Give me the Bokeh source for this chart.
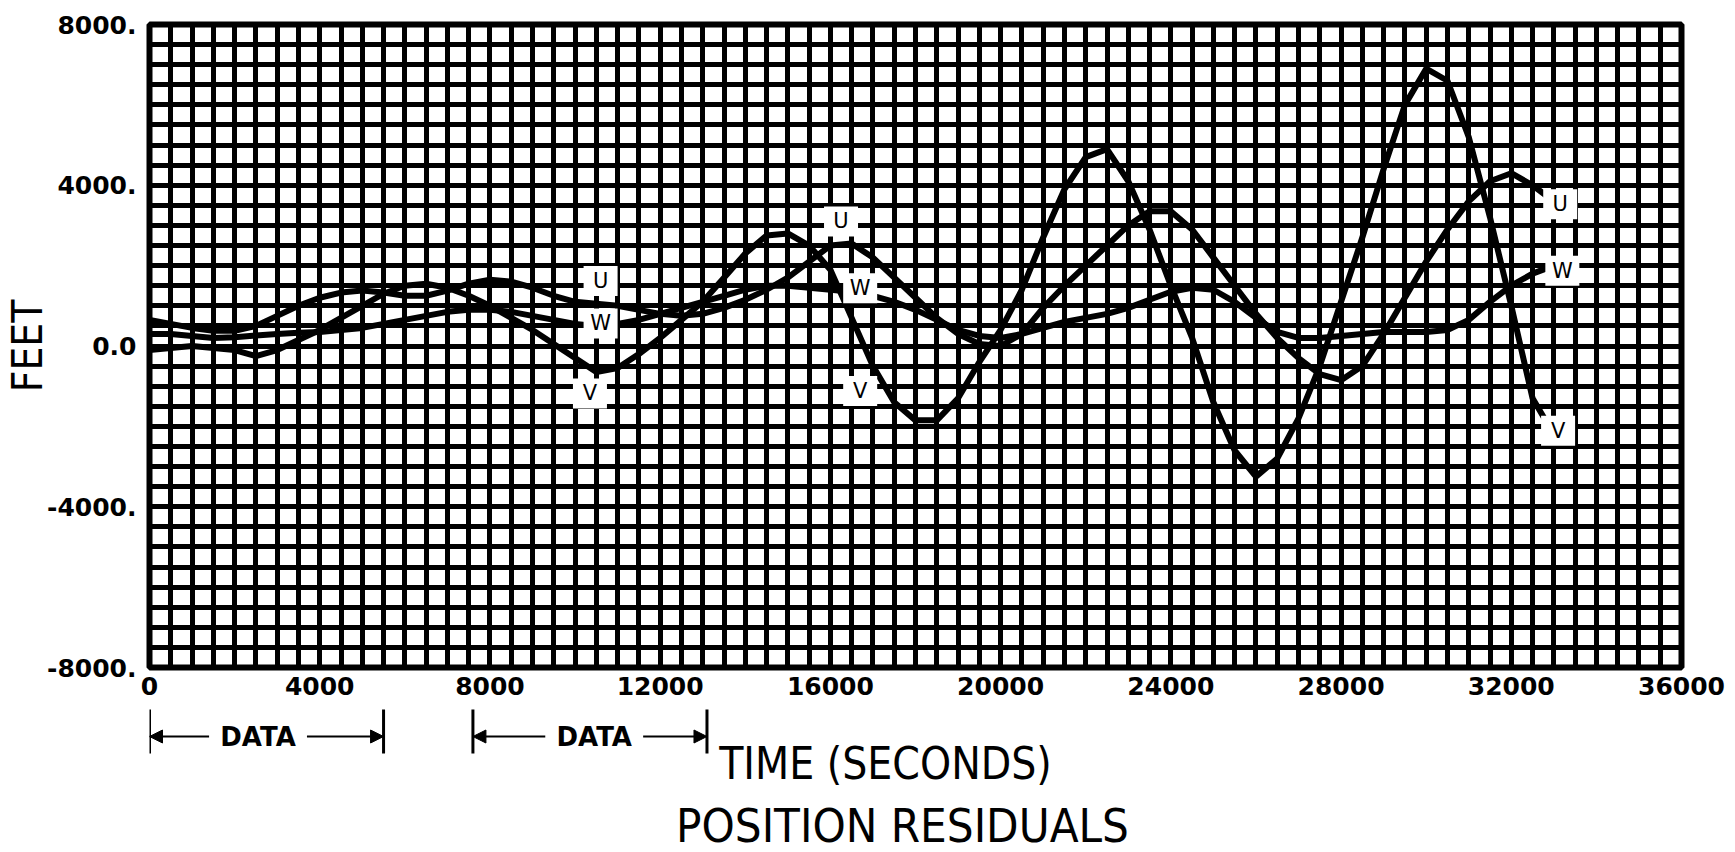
from bokeh.plotting import figure
from bokeh.layouts import column
from bokeh.models import (FixedTicker, SingleIntervalTicker, Arrow, NormalHead,
                          ColumnDataSource, Range1d)
from bokeh.core.properties import value
from bokeh.embed import file_html
from bokeh.resources import INLINE

# ---------------- data ----------------
time_s = [0, 500, 1000, 1500, 2000, 2500, 3000, 3500, 4000, 4500, 5000, 5500, 6000, 6500,
          7000, 7500, 8000, 8500, 9000, 9500, 10000, 10500, 11000, 11500, 12000, 12500,
          13000, 13500, 14000, 14500, 15000, 15500, 16000, 16500, 17000, 17500, 18000,
          18500, 19000, 19500, 20000, 20500, 21000, 21500, 22000, 22500, 23000, 23500,
          24000, 24500, 25000, 25500, 26000, 26500, 27000, 27500, 28000, 28500, 29000,
          29500, 30000, 30500, 31000, 31500, 32000, 32500, 33000]

u_ft = [650, 550, 450, 380, 380, 500, 750, 1000, 1200, 1330, 1380, 1330, 1250, 1250,
        1380, 1550, 1650, 1600, 1450, 1250, 1100, 1050, 1000, 900, 800, 750,
        800, 950, 1150, 1400, 1700, 2100, 2500, 2550, 2200, 1700, 1200,
        700, 300, 50, 0, 300, 950, 1500, 2000, 2500, 3000, 3350,
        3350, 2900, 2200, 1500, 800, 200, -300, -700, -850, -500, 300,
        1200, 2100, 2900, 3600, 4100, 4300, 4000, 3600]

v_ft = [-100, -50, 0, -50, -100, -250, -100, 150, 400, 700, 1000, 1300, 1500, 1550,
        1450, 1250, 1000, 700, 400, 50, -300, -650, -550, -200, 200, 650,
        1100, 1700, 2300, 2750, 2800, 2500, 1900, 700, -500, -1400, -1850,
        -1850, -1300, -400, 400, 1400, 2700, 3900, 4700, 4900, 4100, 2900,
        1500, 200, -1400, -2600, -3250, -2800, -1800, -500, 1100, 2700, 4400,
        6000, 6900, 6600, 5200, 3200, 1000, -1300, -2200]

w_ft = [300, 300, 250, 200, 220, 260, 300, 330, 350, 400, 450, 550, 650, 750,
        850, 900, 900, 850, 750, 650, 550, 500, 550, 650, 800, 950,
        1100, 1250, 1400, 1500, 1500, 1450, 1400, 1350, 1250, 1100, 900,
        650, 400, 250, 200, 300, 450, 600, 700, 800, 950, 1150,
        1350, 1450, 1400, 1100, 700, 350, 200, 200, 250, 300, 350,
        350, 350, 400, 650, 1100, 1500, 1800, 2000]

x_ticks = [0, 4000, 8000, 12000, 16000, 20000, 24000, 28000, 32000, 36000]
y_ticks = [-8000, -4000, 0, 4000, 8000]
y_tick_text = {-8000: "-8000.", -4000: "-4000.", 0: "0.0", 4000: "4000.", 8000: "8000."}

data_windows = [(0, 5500), (7600, 13100)]
data_label_t = [2550, 10450]

curve_labels = ["U", "W", "V", "U", "W", "V", "U", "W", "V"]
label_t = [10600, 10600, 10350, 16250, 16700, 16700, 33150, 33200, 33100]
label_v = [1620, 560, -1180, 3100, 1440, -1120, 3530, 1870, -2110]

x_title = "TIME (SECONDS)"
y_title = "FEET"
caption = "POSITION RESIDUALS"

# ---------------- layout constants ----------------
W, H = 1735, 852
FRAME_L, FRAME_R, FRAME_T = 149, 54, 24
MAIN_H = 705
FRAME_B = MAIN_H - 667
BOT_H = H - MAIN_H

tick_font = "'DejaVu Sans', sans-serif"
title_font = "'DejaVu Sans Condensed', 'Liberation Sans Narrow', 'Roboto Condensed', 'DejaVu Sans', sans-serif"

# ---------------- main chart ----------------
p = figure(width=W, height=MAIN_H, x_range=Range1d(0, 36000), y_range=Range1d(-8000, 8000),
           output_backend="svg", toolbar_location=None,
           min_border_left=FRAME_L, min_border_right=FRAME_R,
           min_border_top=FRAME_T, min_border_bottom=FRAME_B)
p.background_fill_color = "white"
p.border_fill_color = "white"
p.outline_line_color = "black"
p.outline_line_width = 6

p.xgrid.ticker = SingleIntervalTicker(interval=500, num_minor_ticks=0)
p.ygrid.ticker = SingleIntervalTicker(interval=500, num_minor_ticks=0)
for g in (p.xgrid, p.ygrid):
    g.grid_line_color = "black"
    g.grid_line_width = 5
    g.grid_line_alpha = 1.0

p.xaxis.ticker = FixedTicker(ticks=x_ticks)
p.yaxis.ticker = FixedTicker(ticks=y_ticks)
p.yaxis.major_label_overrides = y_tick_text
for ax in (p.xaxis, p.yaxis):
    ax.axis_line_color = None
    ax.major_tick_line_color = None
    ax.minor_tick_line_color = None
    ax.major_tick_out = 0
    ax.minor_tick_out = 0
    ax.major_tick_in = 0
    ax.minor_tick_in = 0
    ax.major_label_text_font = tick_font
    ax.major_label_text_font_style = "bold"
    ax.major_label_text_font_size = "25px"
    ax.major_label_text_color = "black"
p.xaxis.major_label_standoff = 9
p.yaxis.major_label_standoff = 13
p.yaxis.axis_label = y_title
p.yaxis.axis_label_text_font = title_font
p.yaxis.axis_label_text_font_style = "normal"
p.yaxis.axis_label_text_font_size = "42px"
p.yaxis.axis_label_standoff = -8
p.yaxis.axis_label_text_color = "black"

src = ColumnDataSource(dict(t=time_s, u=u_ft, v=v_ft, w=w_ft))
for col in ("u", "v", "w"):
    p.line("t", col, source=src, line_color="black", line_width=6,
           line_join="round", line_cap="round")

lab_src = ColumnDataSource(dict(t=label_t, v=label_v, s=curve_labels))
p.rect("t", "v", width=34, height=30, width_units="screen", height_units="screen",
       source=lab_src, fill_color="white", line_color=None)
p.text("t", "v", text="s", source=lab_src, text_align="center", text_baseline="middle",
       text_font=value(tick_font), text_font_size="21px", text_color="black")

# ---------------- bottom strip: DATA brackets and captions ----------------
b = figure(width=W, height=BOT_H, x_range=p.x_range, y_range=Range1d(0, BOT_H),
           output_backend="svg", toolbar_location=None,
           min_border_left=FRAME_L, min_border_right=FRAME_R,
           min_border_top=0, min_border_bottom=0)
b.axis.visible = False
b.grid.visible = False
b.outline_line_color = None
b.background_fill_color = "white"
b.border_fill_color = "white"

def py(page_y):
    return MAIN_H + BOT_H - page_y  # page pixel row -> strip data y

bar_t = [t for win in data_windows for t in win]
b.segment(x0=bar_t, y0=[py(709)] * len(bar_t), x1=bar_t, y1=[py(753)] * len(bar_t),
          line_color="black", line_width=3)
arrow_y = py(736)
for (t0, t1), mid in zip(data_windows, data_label_t):
    b.add_layout(Arrow(x_start=mid - 1150, y_start=arrow_y, x_end=t0, y_end=arrow_y,
                       end=NormalHead(size=13, fill_color="black", line_color="black"),
                       line_width=2, line_color="black"))
    b.add_layout(Arrow(x_start=mid + 1150, y_start=arrow_y, x_end=t1, y_end=arrow_y,
                       end=NormalHead(size=13, fill_color="black", line_color="black"),
                       line_width=2, line_color="black"))
b.rect(x=data_label_t, y=[arrow_y] * 2, width=92, height=26, width_units="screen",
       height_units="screen", fill_color="white", line_color=None)
b.text(x=data_label_t, y=[arrow_y] * 2, text=["DATA"] * 2, text_align="center",
       text_baseline="middle", text_font=value(tick_font), text_font_style="bold",
       text_font_size="26px", text_color="black")

b.text(x=[17295], y=[py(763)], text=[x_title], text_align="center", text_baseline="middle",
       text_font=value(title_font), text_font_size="44px", text_color="black")
b.text(x=[17694], y=[py(825)], text=[caption], text_align="center", text_baseline="middle",
       text_font=value(title_font), text_font_size="47px", text_color="black")

layout = column(p, b, spacing=0)
open("out.html", "w").write(file_html(layout, INLINE))
